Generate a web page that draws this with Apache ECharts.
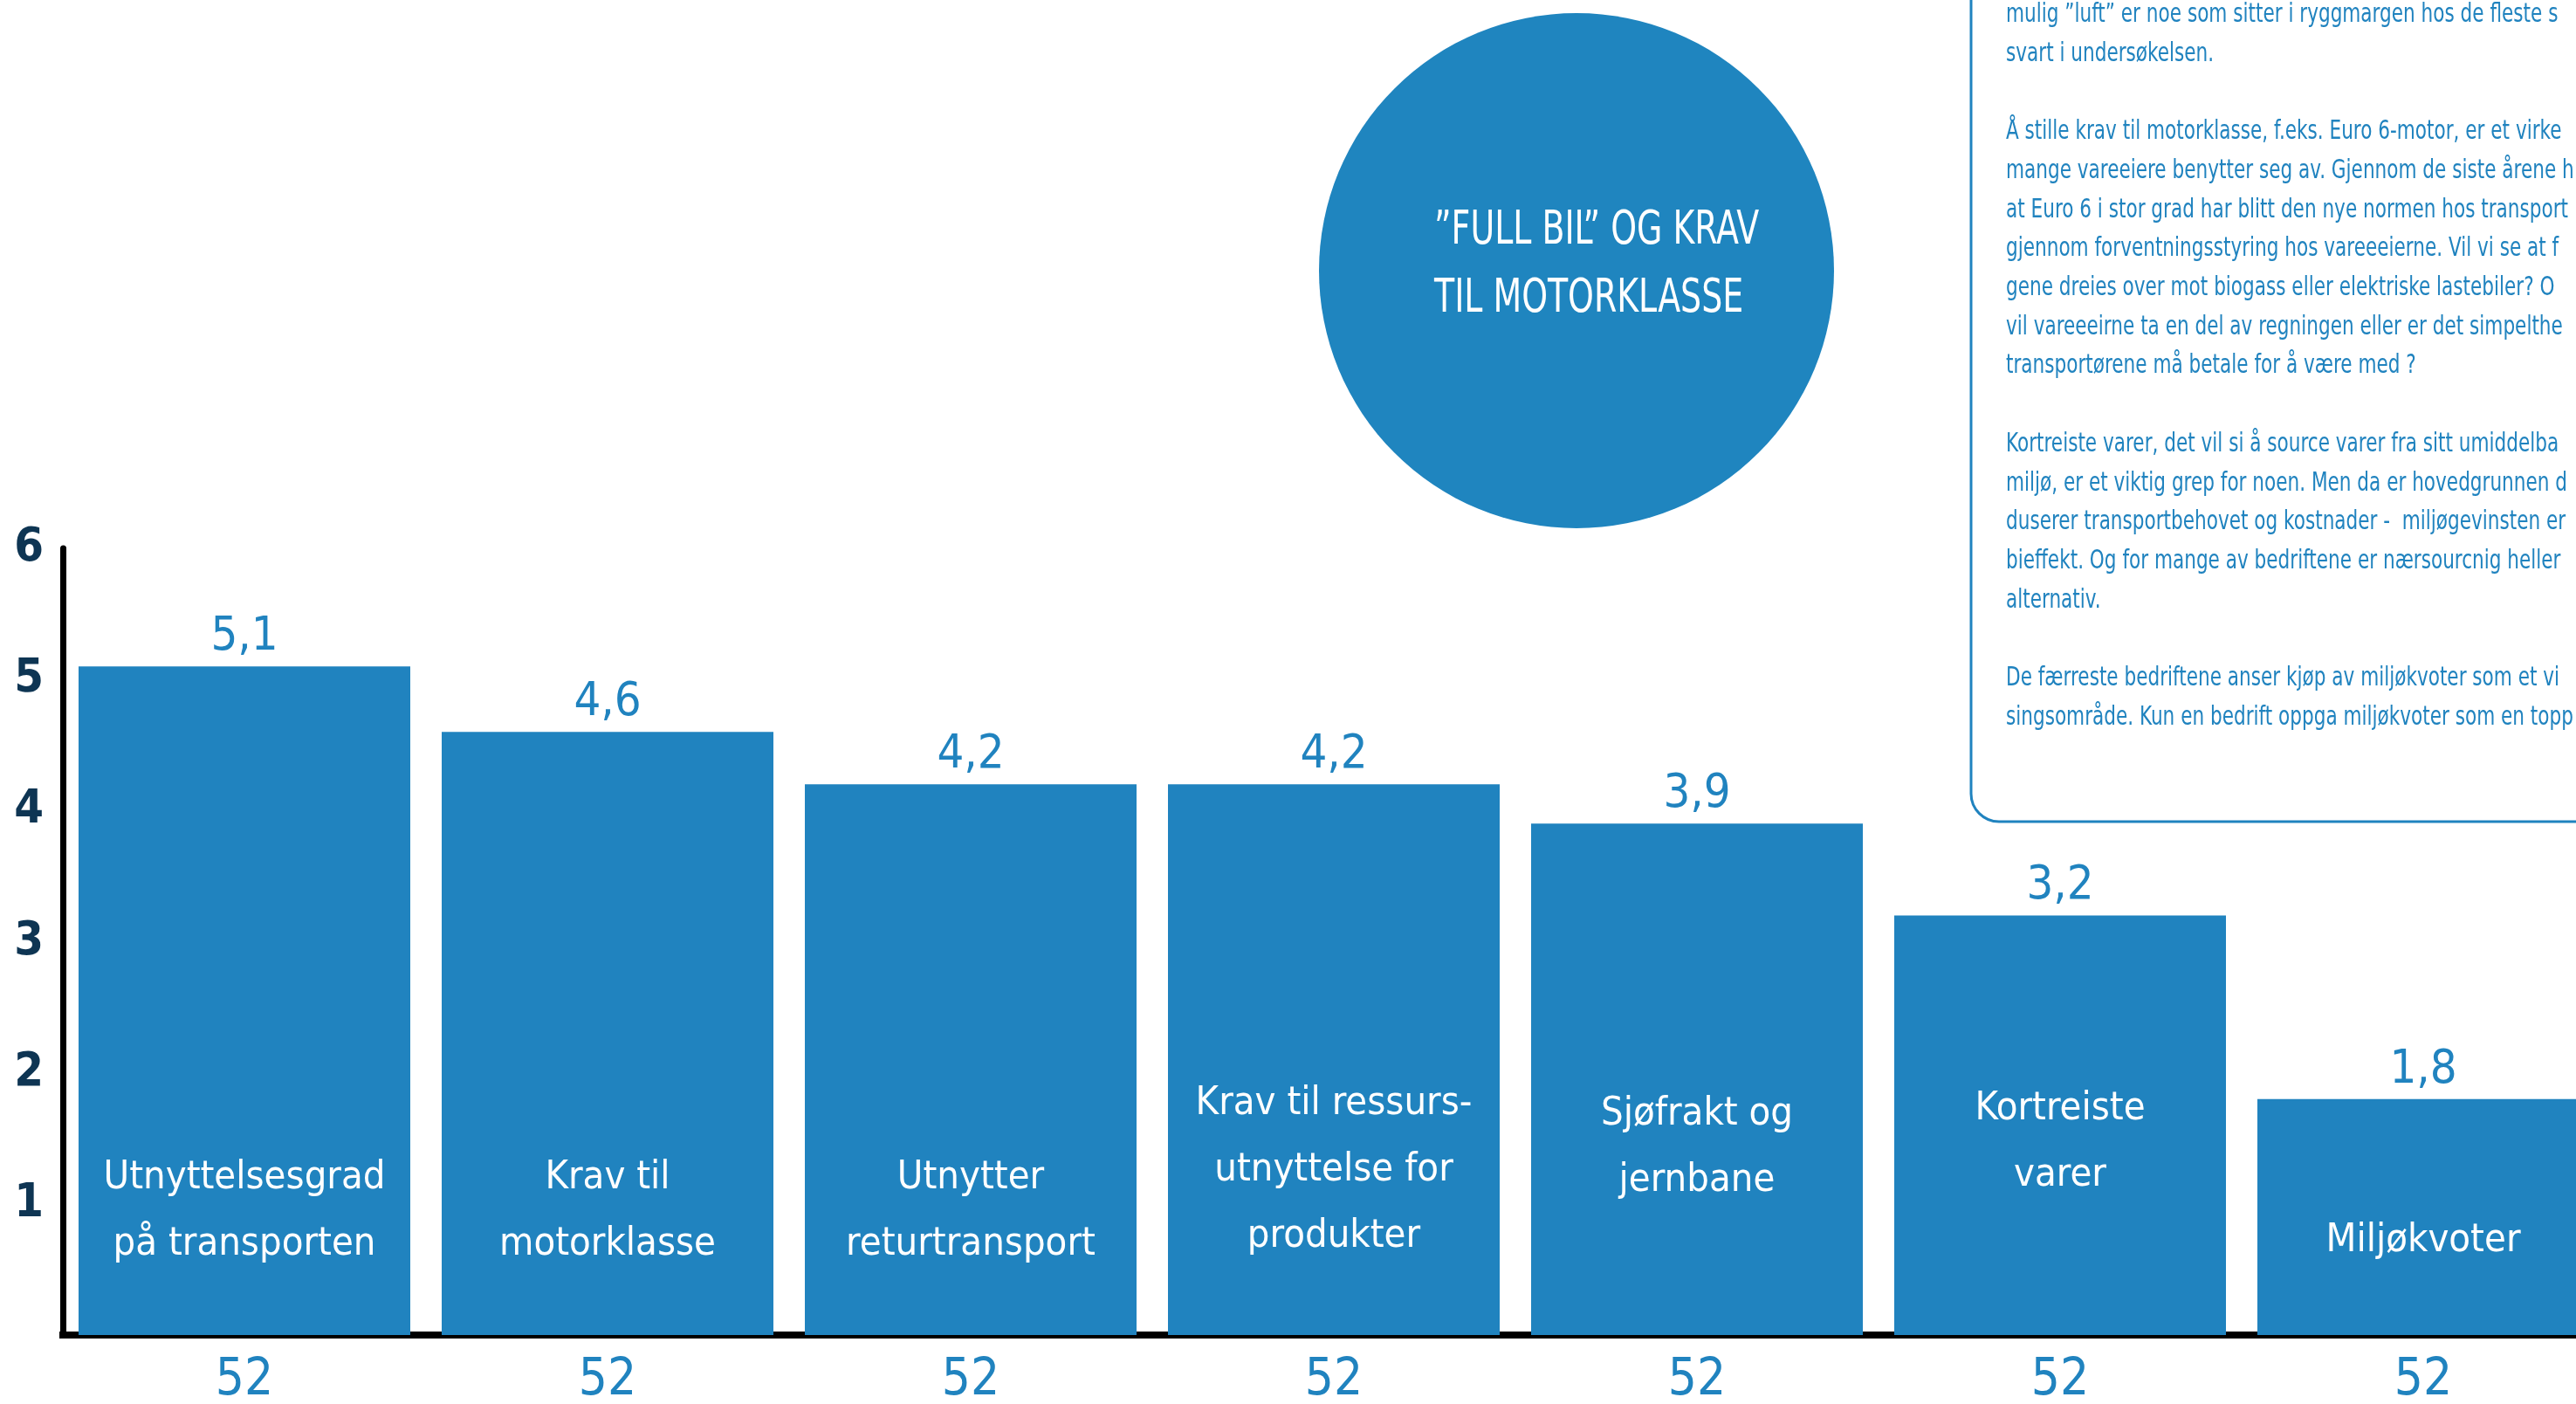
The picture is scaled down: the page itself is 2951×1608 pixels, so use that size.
<!DOCTYPE html>
<html>
<head>
<meta charset="utf-8">
<title>Full bil og krav til motorklasse</title>
<script src="https://cdn.jsdelivr.net/npm/echarts@6/dist/echarts.min.js"></script>
<style>
html, body { margin: 0; padding: 0; background: #fff; }
#chart { width: 2951px; height: 1608px; }
</style>
</head>
<body>
<div id="chart"></div>
<script>
var categories = [
    'Utnyttelsesgrad\npå transporten',
    'Krav til\nmotorklasse',
    'Utnytter\nreturtransport',
    'Krav til ressurs-\nutnyttelse for\nprodukter',
    'Sjøfrakt og\njernbane',
    'Kortreiste\nvarer',
    'Miljøkvoter'
];
var scores = [5.1, 4.6, 4.2, 4.2, 3.9, 3.2, 1.8];
var respondents = [52, 52, 52, 52, 52, 52, 52];

var circleTitle = '”FULL BIL” OG KRAV\nTIL MOTORKLASSE';
var noteLines = [
    'mulig ”luft” er noe som sitter i ryggmargen hos de fleste s',
    'svart i undersøkelsen.',
    '',
    'Å stille krav til motorklasse, f.eks. Euro 6-motor, er et virke',
    'mange vareeiere benytter seg av. Gjennom de siste årene h',
    'at Euro 6 i stor grad har blitt den nye normen hos transport',
    'gjennom forventningsstyring hos vareeeierne. Vil vi se at f',
    'gene dreies over mot biogass eller elektriske lastebiler? O',
    'vil vareeeirne ta en del av regningen eller er det simpelthe',
    'transportørene må betale for å være med ?',
    '',
    'Kortreiste varer, det vil si å source varer fra sitt umiddelba',
    'miljø, er et viktig grep for noen. Men da er hovedgrunnen d',
    'duserer transportbehovet og kostnader -  miljøgevinsten er',
    'bieffekt. Og for mange av bedriftene er nærsourcnig heller',
    'alternativ.',
    '',
    'De færreste bedriftene anser kjøp av miljøkvoter som et vi',
    'singsområde. Kun en bedrift oppga miljøkvoter som en topp'
];

// how far the white name sits above the bar foot (layout only)
var nameLift = [66, 66, 66, 75, 139, 145, 70];

var FONT = '"Liberation Sans Narrow", "DejaVu Sans Condensed", sans-serif';
var BLUE = '#2083bf';
var NAVY = '#0e3553';

var chart = echarts.init(document.getElementById('chart'));

var nameData = [];
for (var i = 0; i < scores.length; i++) {
    nameData.push({ value: scores[i], label: { distance: nameLift[i] } });
}

chart.setOption({
    animation: false,
    grid: {
        left: 72,
        right: -33,
        top: 628,
        bottom: 79,
        containLabel: false,
        outerBoundsMode: 'none'
    },
    xAxis: {
        type: 'category',
        data: categories,
        offset: 4,
        axisLine: { lineStyle: { color: '#000', width: 8, cap: 'square' } },
        axisTick: { show: false },
        axisLabel: {
            margin: 20,
            color: BLUE,
            fontSize: 58,
            fontFamily: FONT,
            formatter: function (v, idx) { return String(respondents[idx]); }
        }
    },
    yAxis: {
        type: 'value',
        min: 0,
        max: 6,
        interval: 1,
        splitLine: { show: false },
        axisTick: { show: false },
        axisLine: { show: true, lineStyle: { color: '#000', width: 7 } },
        axisLabel: {
            margin: 22,
            color: NAVY,
            fontSize: 54,
            fontWeight: 'bold',
            fontFamily: FONT,
            padding: [0, 0, 18, 0],
            formatter: function (v) { return v === 0 ? '' : String(v); }
        }
    },
    series: [
        {
            type: 'bar',
            data: scores,
            barWidth: 380,
            barGap: '-100%',
            itemStyle: { color: BLUE },
            label: {
                show: true,
                position: 'top',
                distance: 6,
                color: BLUE,
                fontSize: 54,
                fontFamily: FONT,
                formatter: function (p) { return String(p.value).replace('.', ','); }
            },
            z: 2
        },
        {
            type: 'bar',
            data: nameData,
            barWidth: 380,
            barGap: '-100%',
            silent: true,
            itemStyle: { color: 'rgba(0,0,0,0)' },
            label: {
                show: true,
                position: 'insideBottom',
                color: '#fff',
                fontSize: 45,
                lineHeight: 76,
                fontFamily: FONT,
                formatter: function (p) { return categories[p.dataIndex]; }
            },
            z: 3
        }
    ],
    graphic: [
        {
            type: 'circle',
            shape: { cx: 1806, cy: 310, r: 295 },
            style: { fill: '#1f85bf' },
            z: 1
        },
        {
            type: 'text',
            x: 1643,
            y: 226,
            scaleX: 0.78,
            style: {
                x: 0,
                y: 0,
                text: circleTitle,
                fill: '#fff',
                font: '54px ' + FONT,
                lineHeight: 78,
                verticalAlign: 'top'
            },
            z: 2
        },
        {
            type: 'rect',
            shape: { x: 2258, y: -80, width: 800, height: 1021, r: 32 },
            style: { fill: 'transparent', stroke: BLUE, lineWidth: 3 },
            z: 1
        },
        {
            type: 'text',
            x: 2298,
            y: -5,
            scaleX: 0.8,
            style: {
                x: 0,
                y: 0,
                text: noteLines.join('\n'),
                fill: BLUE,
                font: '30px ' + FONT,
                lineHeight: 44.7,
                verticalAlign: 'top'
            },
            z: 2
        }
    ]
});
</script>
</body>
</html>
